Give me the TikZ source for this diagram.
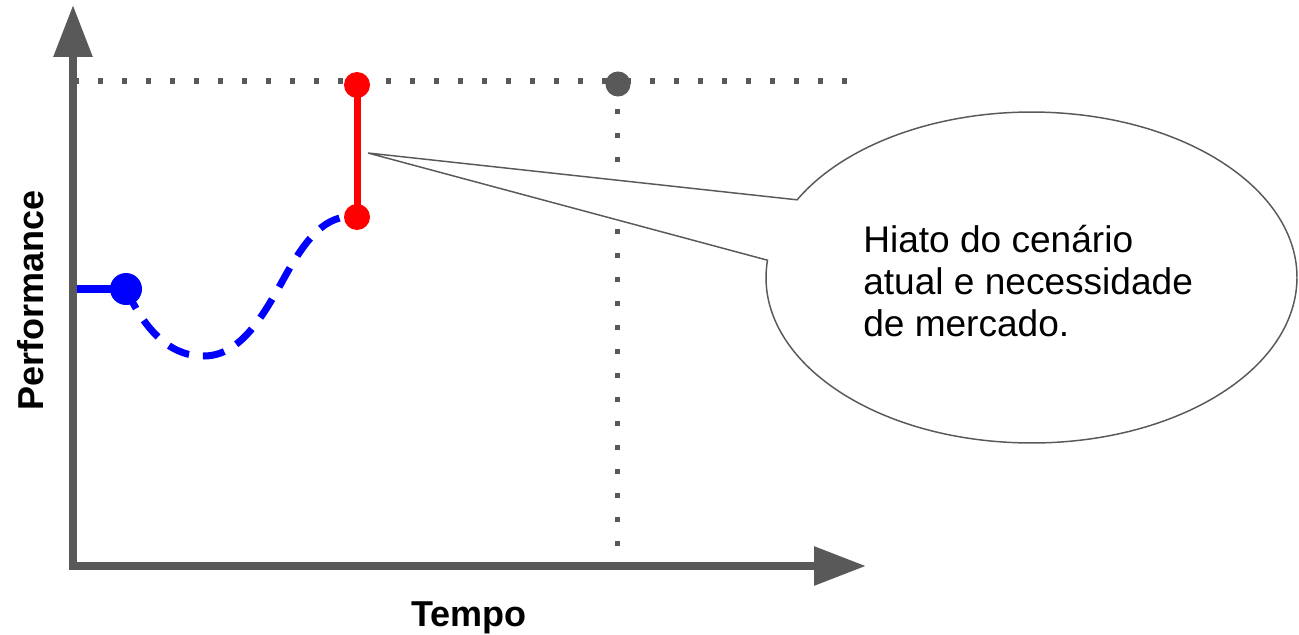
\documentclass[tikz,border=0pt]{standalone}
\usepackage{fontspec}
\setmainfont{Liberation Sans}
\usepackage{tikz}
\usetikzlibrary{arrows.meta,calc}

\definecolor{axisgray}{HTML}{595959}

\begin{document}
\begin{tikzpicture}[x=0.75pt,y=-0.75pt,
	axis/.style={draw=axisgray,line width=6pt,line join=miter,{Triangle[length=39pt,width=28pt]}-{Triangle[length=39pt,width=28pt]}},
	guide/.style={draw=axisgray,line width=3.9pt,dash pattern=on 3.9pt off 14.1pt},
	callout/.style={draw=axisgray,line width=1.1pt,fill=white,line join=miter},
	label/.style={font=\fontsize{27}{31}\selectfont\bfseries,inner sep=0pt}]
		\useasboundingbox (0,0) rectangle (1299,635);
		\coordinate (top) at (73,5);
		\coordinate (orig) at (73,566);
		\coordinate (right) at (866,566);
		\coordinate (now) at (126,289);
		\coordinate (low) at (205,356);
		\coordinate (mid) at (283,280);
		\coordinate (cur) at (357,217);
		\coordinate (need) at (357,85);
		\coordinate (goal) at (618,84);
		\coordinate (tip) at (368,153);
		\coordinate (bubble) at (1031.5,277.5);
		% axes
		\draw[axis] (top) |- (right);
		\node[label,rotate=90,anchor=base] (perf) at (43,300) {Performance};
		\node[label,anchor=base] (tempo) at (469,626) {Tempo};
		% guides
		\draw[guide] (74,81) -- (850,81);
		\draw[guide] (617.5,85) -- (617.5,570);
		% performance
		\draw[blue,line width=6pt] (77,289) -- (now);
		\draw[blue,line width=5.25pt,dash pattern=on 16.5pt off 10.5pt]
			(now) .. controls (148,337) and (175,357) .. (low)
			.. controls (240,355) and (262,318) .. (mid)
			.. controls (305,240) and (325,213) .. (cur);
		\draw[red,line width=5.25pt] (cur) -- (need);
		\fill[blue] (now) circle[radius=12pt];
		\fill[red] (cur) circle[radius=9.75pt];
		\fill[red] (need) circle[radius=9.75pt];
		\fill[axisgray] (goal) circle[radius=9.4pt];
		% callout
		\draw[callout] ($(bubble)+(152:199.1pt and 124.1pt)$) -- (tip)
			-- ($(bubble)+(174:199.1pt and 124.1pt)$)
			arc[start angle=174,end angle=512,x radius=199.1pt,y radius=124.1pt] -- cycle;
		\node[anchor=west,align=left,inner sep=0pt,font=\fontsize{27.8}{31.5}\selectfont] (gap) at (863,281.5) {Hiato do cenário\\atual e necessidade\\de mercado.};
	\end{tikzpicture}
\end{document}
